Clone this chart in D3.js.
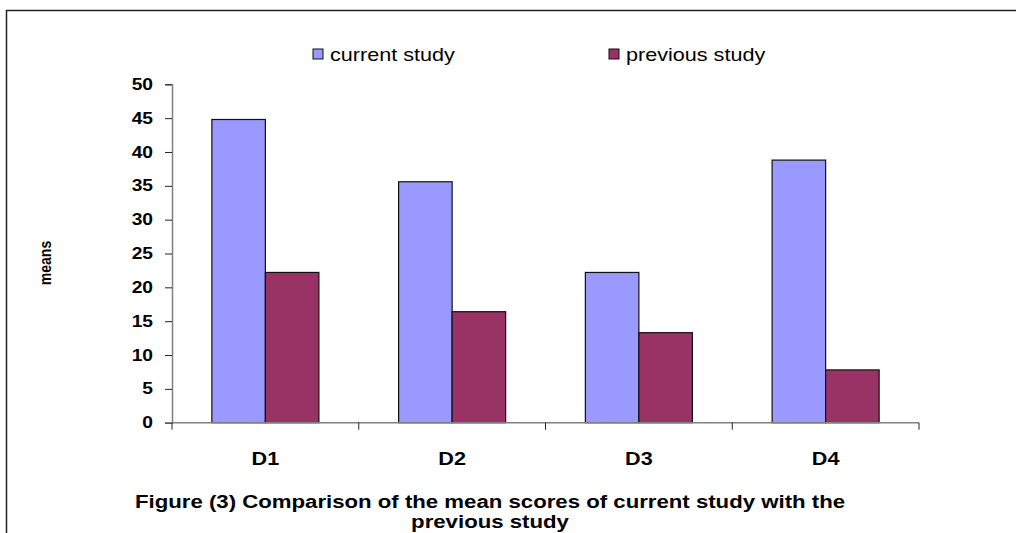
<!DOCTYPE html>
<html>
<head>
<meta charset="utf-8">
<script src="https://cdn.jsdelivr.net/npm/d3@7"></script>
<style>
  html, body { margin: 0; padding: 0; background: #fff; }
  svg { display: block; font-family: "Liberation Sans", Arial, sans-serif; }
</style>
</head>
<body>
<svg id="chart" width="1016" height="533"></svg>
<script>
// Mean scores per domain
const categories = ["D1", "D2", "D3", "D4"];
const seriesNames = ["current study", "previous study"];
const currentStudy = [44.8, 35.6, 22.2, 38.8];
const previousStudy = [22.2, 16.4, 13.3, 7.8];
const yTicks = [0, 5, 10, 15, 20, 25, 30, 35, 40, 45, 50];
const colors = ["#9999FF", "#993366"];

// text in this figure is set slightly wide
const SX = 1.2;
const FONT = "Liberation Sans, Arial, sans-serif";

const svg = d3.select("#chart");

// outer frame
svg.append("rect")
  .attr("x", 6.5).attr("y", 10.5)
  .attr("width", 1030).attr("height", 540)
  .attr("fill", "none").attr("stroke", "#222").attr("stroke-width", 1.5);

const plot = { left: 172, right: 919, top: 84.3, bottom: 422.7 };

const x = d3.scaleBand().domain(categories).range([plot.left, plot.right]).paddingInner(0).paddingOuter(0);
const inner = d3.scaleBand().domain(seriesNames).range([0, x.bandwidth()]).paddingInner(0).paddingOuter(0.745);
const y = d3.scaleLinear().domain([0, 50]).range([plot.bottom, plot.top]);

const rows = categories.map((c, i) => ({ cat: c, vals: [currentStudy[i], previousStudy[i]] }));

// bars
const groups = svg.append("g").selectAll("g").data(rows).join("g")
  .attr("transform", d => `translate(${x(d.cat)},0)`);
groups.selectAll("rect").data(d => d.vals.map((v, k) => ({ v, k })))
  .join("rect")
  .attr("x", d => inner(seriesNames[d.k]))
  .attr("y", d => y(d.v))
  .attr("width", inner.bandwidth())
  .attr("height", d => y(0) - y(d.v))
  .attr("fill", d => colors[d.k])
  .attr("stroke", "#111").attr("stroke-width", 1.2);

// y axis
const yAxis = svg.append("g").attr("transform", `translate(${plot.left},0)`)
  .call(d3.axisLeft(y).tickValues(yTicks).tickSize(7).tickPadding(12));
yAxis.select(".domain").attr("stroke", "#808080").attr("stroke-width", 1.5);
yAxis.selectAll(".tick line").attr("stroke", "#222");
yAxis.selectAll(".tick text")
  .attr("font-size", 16).attr("font-weight", "bold").attr("fill", "#000")
  .attr("font-family", FONT)
  .attr("x", -19 / SX)
  .attr("transform", `scale(${SX},1)`);

// x axis with ticks at category boundaries
const xAxisG = svg.append("g").attr("transform", `translate(0,${plot.bottom})`);
xAxisG.append("line")
  .attr("x1", plot.left - 7).attr("x2", plot.right)
  .attr("stroke", "#808080").attr("stroke-width", 1.5);
const boundaries = categories.map(c => x(c)).concat([x(categories[categories.length - 1]) + x.bandwidth()]);
xAxisG.selectAll("line.b").data(boundaries).join("line")
  .attr("class", "b")
  .attr("x1", d => d).attr("x2", d => d)
  .attr("y1", 0).attr("y2", 7)
  .attr("stroke", "#222").attr("stroke-width", 1);
xAxisG.selectAll("text").data(categories).join("text")
  .attr("transform", d => `translate(${x(d) + x.bandwidth() / 2},42) scale(${SX},1)`)
  .attr("text-anchor", "middle")
  .attr("font-size", 18).attr("font-weight", "bold")
  .text(d => d);

// y axis title
svg.append("text")
  .attr("transform", `translate(51,263) scale(${SX},1) rotate(-90)`)
  .attr("text-anchor", "middle")
  .attr("font-size", 14).attr("font-weight", "bold")
  .text("means");

// legend
const legendX = [313, 609];
const legend = svg.append("g").selectAll("g").data(seriesNames).join("g")
  .attr("transform", (d, i) => `translate(${legendX[i]},49)`);
legend.append("rect")
  .attr("width", 10).attr("height", 10)
  .attr("fill", (d, i) => colors[i])
  .attr("stroke", "#111").attr("stroke-width", 1);
legend.append("text")
  .attr("transform", `translate(17,12) scale(${SX},1)`)
  .attr("font-size", 18)
  .text(d => d);

// caption
const caption = svg.append("g").attr("transform", `translate(490,0) scale(${SX},1)`)
  .append("text")
  .attr("text-anchor", "middle")
  .attr("font-size", 18.5).attr("font-weight", "bold");
caption.append("tspan").attr("x", 0).attr("y", 508)
  .text("Figure (3) Comparison of the mean scores of current study with the");
caption.append("tspan").attr("x", 0).attr("y", 528)
  .text("previous study");
</script>
</body>
</html>
